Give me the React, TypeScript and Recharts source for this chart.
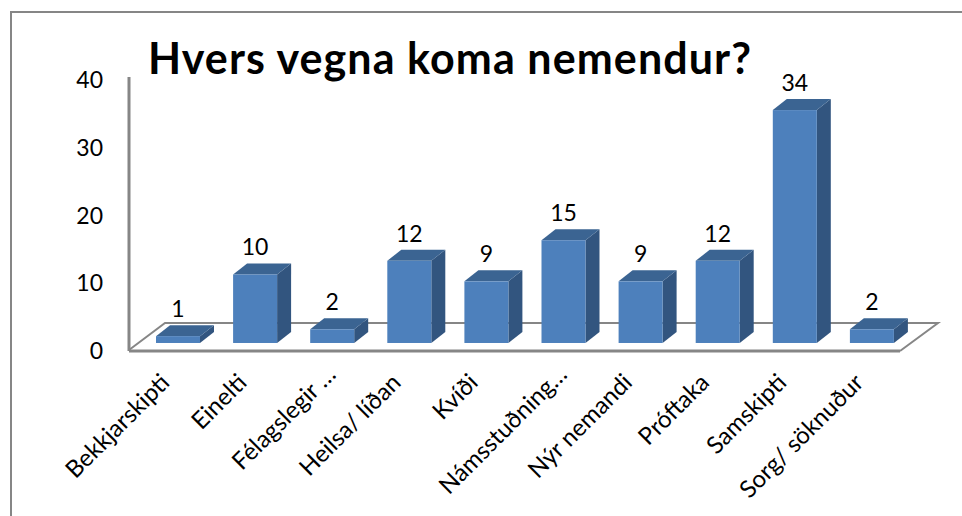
import { Bar, ComposedChart, LabelList, XAxis, YAxis } from "recharts";

const categories = [
  "Bekkjarskipti",
  "Einelti",
  "Félagslegir …",
  "Heilsa/ líðan",
  "Kvíði",
  "Námsstuðning…",
  "Nýr nemandi",
  "Próftaka",
  "Samskipti",
  "Sorg/ söknuður"
];
const counts = [1, 10, 2, 12, 9, 15, 9, 12, 34, 2];
const wallTicks = [0, 10, 20, 30, 40];

const data = categories.map((name, i) => ({ name, count: counts[i] }));

const FONT = "Lato, Carlito, sans-serif";
const DEPTH_X = 14;
const DEPTH_Y = 11;

// front face plus the two faces that fake the 3D look
function Bar3D({ x, y, width, height }: any) {
  const r = x + width;
  const b = y + height;
  return (
    <g>
      <polygon
        points={`${r},${y} ${r + DEPTH_X},${y - DEPTH_Y} ${r + DEPTH_X},${b - DEPTH_Y} ${r},${b}`}
        fill="#32557f"
      />
      <polygon
        points={`${x},${y} ${x + DEPTH_X},${y - DEPTH_Y} ${r + DEPTH_X},${y - DEPTH_Y} ${r},${y}`}
        fill="#3b6492"
      />
      <rect x={x} y={y} width={width} height={height} fill="#4d80bc" />
    </g>
  );
}

function CategoryTick({ x, y, payload }: any) {
  // the cut-off labels sit a bit further up and right in the original
  const cut = payload.value.endsWith("…");
  const tx = x + (cut ? 5 : -7);
  const ty = y + (cut ? 17 : 25);
  return (
    <text
      x={tx}
      y={ty}
      transform={`rotate(-45 ${tx} ${ty})`}
      textAnchor="end"
      fontFamily={FONT}
      fontSize={24}
      fill="#000"
    >
      {payload.value}
    </text>
  );
}

export default function App() {
  return (
    <div style={{ position: "absolute", left: 0, top: 0, width: 962, height: 516, background: "#fff" }}>
      <div
        style={{
          position: "absolute",
          left: 10,
          top: 11,
          width: 952,
          height: 505,
          borderLeft: "2px solid #868686",
          borderTop: "2px solid #868686",
          boxSizing: "border-box"
        }}
      />
      <ComposedChart
        width={962}
        height={516}
        data={data}
        margin={{ top: 77, right: 62, bottom: 0, left: 0 }}
        barCategoryGap={16.5}
        style={{ position: "absolute", left: 0, top: 0 }}
      >
        {/* back floor edges */}
        <polyline points="129,350 165,323 938,323 900,351" fill="none" stroke="#868686" strokeWidth={2} />
        <XAxis
          dataKey="name"
          interval={0}
          padding={{ left: 10.5, right: -10.5 }}
          axisLine={{ stroke: "#868686", strokeWidth: 3 }}
          tickLine={false}
          tick={<CategoryTick />}
          height={165}
        />
        <YAxis
          yAxisId="wall"
          width={129}
          domain={[0, 40.45]}
          ticks={wallTicks}
          allowDataOverflow
          axisLine={{ stroke: "#868686", strokeWidth: 3 }}
          tickLine={false}
          tick={{ fontFamily: FONT, fontSize: 23, fill: "#000" }}
          tickMargin={20}
          interval={0}
        />
        <YAxis yAxisId="bars" orientation="right" hide domain={[-1.17, 38.83]} allowDataOverflow />
        <Bar dataKey="count" yAxisId="bars" shape={<Bar3D />} isAnimationActive={false}>
          <LabelList
            dataKey="count"
            position="top"
            offset={19}
            fontFamily={FONT}
            fontSize={23}
            fill="#000"
          />
        </Bar>
        <text x={148} y={74} fontFamily={FONT} fontWeight={700} fontSize={43} letterSpacing={1.08} fill="#000">
          Hvers vegna koma nemendur?
        </text>
      </ComposedChart>
    </div>
  );
}
